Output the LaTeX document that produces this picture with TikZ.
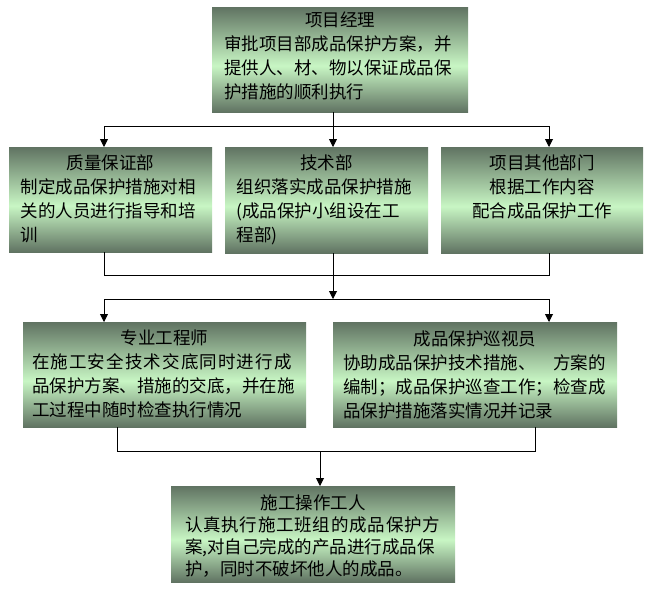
\documentclass[tikz,border=0pt]{standalone}
\usepackage{fontspec}
\newfontfamily\cjk{Noto Sans CJK SC}
\newfontfamily\cjkwide[LetterSpace=6.5]{Noto Sans CJK SC}
\newfontfamily\cjkwidef[LetterSpace=4.5]{Noto Sans CJK SC}
\usetikzlibrary{arrows.meta}
\definecolor{gdark}{RGB}{96,115,98}
\definecolor{glight}{RGB}{200,246,196}
\pgfdeclareverticalshading{boxshade}{100bp}{color(0bp)=(gdark); color(25bp)=(gdark); color(47bp)=(glight); color(75bp)=(gdark); color(100bp)=(gdark)}
\begin{document}
\begin{tikzpicture}[x=1pt,y=-1pt,
  box/.style={anchor=north west, inner sep=0pt, outer sep=0pt, shading=boxshade},
  txt/.style={anchor=north, inner sep=0pt, align=left, font=\cjk\fontsize{17.5}{24}\selectfont},
  arr/.style={-{Triangle[width=8pt,length=8pt]}},
  line width=0.9pt]
\useasboundingbox (0,0) rectangle (650,598);
% boxes
\node[box, minimum width=256, minimum height=105] (top) at (212,7) {};
\node[box, minimum width=203, minimum height=105] (A) at (9,147) {};
\node[box, minimum width=203, minimum height=106] (B) at (225,147) {};
\node[box, minimum width=202, minimum height=106] (C) at (441,147) {};
\node[box, minimum width=283, minimum height=105] (D) at (23,322) {};
\node[box, minimum width=284, minimum height=105] (E) at (333,322) {};
\node[box, minimum width=284, minimum height=96] (F) at (171,486) {};
% texts
\node[txt, text width=232pt] (topt) at ([yshift=-4pt]top.north)
  {\makebox[\hsize]{项目经理}\\审批项目部成品保护方案，并\\提供人、材、物以保证成品保\\护措施的顺利执行};
\node[txt, text width=180pt] (At) at ([yshift=-7pt]A.north)
  {\makebox[\hsize]{质量保证部}\\制定成品保护措施对相\\关的人员进行指导和培\\训};
\node[txt, text width=180pt] (Bt) at ([yshift=-7pt]B.north)
  {\makebox[\hsize]{技术部}\\组织落实成品保护措施\\(成品保护小组设在工\\程部)};
\node[txt, text width=200pt, align=center] (Ct) at ([yshift=-7pt]C.north)
  {项目其他部门\\根据工作内容\\配合成品保护工作};
\node[txt, text width=265pt] (Dt) at ([yshift=-7pt]D.north)
  {\makebox[\hsize]{专业工程师}\\{\cjkwide 在施工安全技术交底同时进行成}\\品保护方案、措施的交底，并在施\\工过程中随时检查执行情况};
\node[txt, text width=264pt] (Et) at ([yshift=-8pt]E.north)
  {\makebox[\hsize]{成品保护巡视员}\\协助成品保护技术措施、　方案的\\编制；成品保护巡查工作；检查成\\品保护措施落实情况并记录};
\node[txt, text width=256pt, font=\cjk\fontsize{17.5}{22}\selectfont] (Ft) at ([yshift=-8pt]F.north)
  {\makebox[\hsize]{施工操作工人}\\{\cjkwidef 认真执行施工班组的成品保护方}\\案,对自己完成的产品进行成品保\\护，同时不破坏他人的成品。};
% connectors
\coordinate (j1) at (333,126);
\coordinate (bl) at (104,126);
\coordinate (br) at (549,126);
\draw (top.south -| j1) -- (j1);
\draw (bl) -- (br);
\draw[arr] (bl) -- (bl |- A.north);
\draw[arr] (j1) -- (j1 |- B.north);
\draw[arr] (br) -- (br |- C.north);
\coordinate (k1) at (104,275);
\coordinate (k2) at (549,275);
\draw (A.south -| k1) -- (k1) -- (k2) -- (C.south -| k2);
\coordinate (m1) at (104,299);
\coordinate (m2) at (549,299);
\coordinate (mj) at (333,299);
\draw[arr] (B.south -| mj) -- (mj);
\draw (m1) -- (m2);
\draw[arr] (m1) -- (m1 |- D.north);
\draw[arr] (m2) -- (m2 |- E.north);
\coordinate (n1) at (117,451);
\coordinate (n2) at (535,451);
\coordinate (nj) at (320,451);
\draw (D.south -| n1) -- (n1) -- (n2) -- (E.south -| n2);
\draw[arr] (nj) -- (nj |- F.north);
\end{tikzpicture}
\end{document}
